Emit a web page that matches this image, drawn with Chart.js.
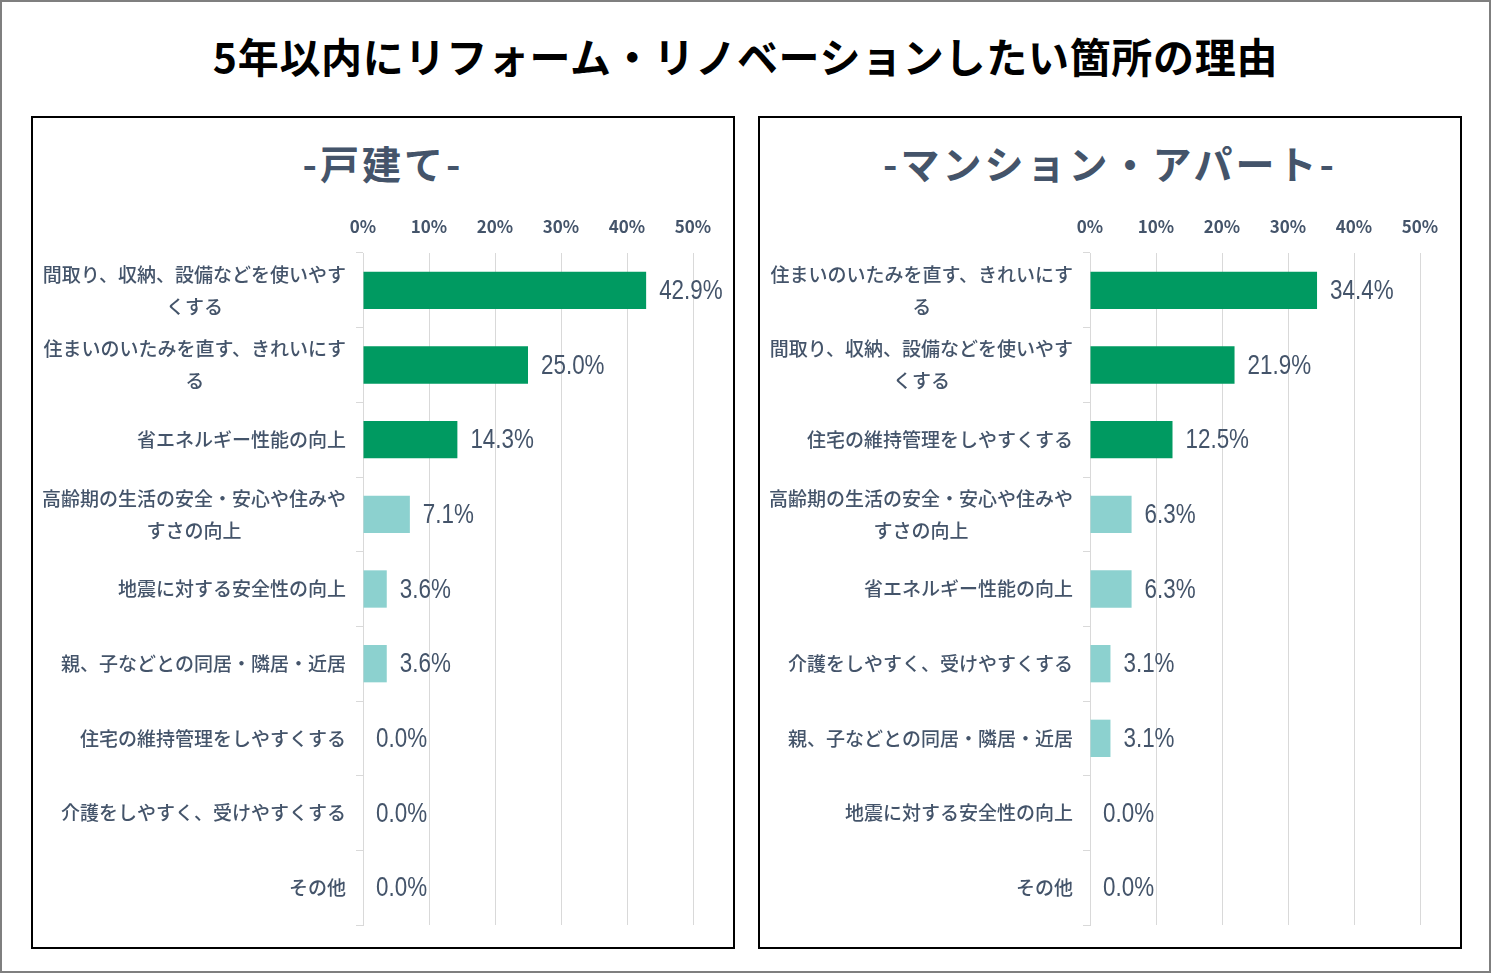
<!DOCTYPE html>
<html lang="ja">
<head>
<meta charset="utf-8">
<title>5年以内にリフォーム・リノベーションしたい箇所の理由</title>
<script src="https://cdn.jsdelivr.net/npm/chart.js@4.4.1/dist/chart.umd.min.js"></script>
<style>
  html, body { margin: 0; padding: 0; background: #fff; }
  body { width: 1491px; height: 973px; position: relative; overflow: hidden;
         font-family: "Noto Sans CJK JP", "Noto Sans", sans-serif; }
  .frame { position: absolute; left: 0; top: 0; width: 1491px; height: 973px;
           box-sizing: border-box; border: 2px solid #7f7f7f; }
  h1 { position: absolute; left: 0; width: 1491px; top: 55px; margin: 0;
       transform: translateY(-50%); text-align: center; line-height: 1;
       font-size: 41px; font-weight: 700; letter-spacing: 0.7px; color: #000; }
  .panel { position: absolute; top: 116px; width: 704px; height: 833px;
           box-sizing: border-box; border: 2px solid #000; }
  .panel h2 { position: absolute; left: 0; width: 100%; top: 44px; margin: 0;
              transform: translateY(-50%); text-align: center; line-height: 1;
              font-size: 39px; font-weight: 700; letter-spacing: 3px; color: #44546A; }
  .panel canvas { position: absolute; left: 0; top: 0; }
</style>
</head>
<body>
<div class="frame"></div>
<h1>5年以内にリフォーム・リノベーションしたい箇所の理由</h1>

<div class="panel" style="left:31px">
  <h2>-戸建て-</h2>
  <canvas id="house" width="700" height="829"></canvas>
</div>
<div class="panel" style="left:758px">
  <h2>-マンション・アパート-</h2>
  <canvas id="condo" width="700" height="829"></canvas>
</div>

<script>
// 戸建て
const houseLabels = [
  ["間取り、収納、設備などを使いやす", "くする"],
  ["住まいのいたみを直す、きれいにす", "る"],
  "省エネルギー性能の向上",
  ["高齢期の生活の安全・安心や住みや", "すさの向上"],
  "地震に対する安全性の向上",
  "親、子などとの同居・隣居・近居",
  "住宅の維持管理をしやすくする",
  "介護をしやすく、受けやすくする",
  "その他"
];
const houseValues = [42.9, 25.0, 14.3, 7.1, 3.6, 3.6, 0.0, 0.0, 0.0];

// マンション・アパート
const condoLabels = [
  ["住まいのいたみを直す、きれいにす", "る"],
  ["間取り、収納、設備などを使いやす", "くする"],
  "住宅の維持管理をしやすくする",
  ["高齢期の生活の安全・安心や住みや", "すさの向上"],
  "省エネルギー性能の向上",
  "介護をしやすく、受けやすくする",
  "親、子などとの同居・隣居・近居",
  "地震に対する安全性の向上",
  "その他"
];
const condoValues = [34.4, 21.9, 12.5, 6.3, 6.3, 3.1, 3.1, 0.0, 0.0];

const xTicks = [0, 10, 20, 30, 40, 50];

const TEXT = "#44546A";
const GREEN = "#009A61";
const TEAL = "#8CD1CF";
const GRID = "#D9D9D9";

// category labels: right aligned block, wrapped lines centered on each other
const catLabels = {
  id: "catLabels",
  afterDraw(chart) {
    const ctx = chart.ctx;
    const yScale = chart.scales.y;
    const right = chart.chartArea.left - 17;
    ctx.save();
    ctx.font = "500 19px 'Noto Sans CJK JP'";
    ctx.fillStyle = TEXT;
    ctx.textAlign = "center";
    ctx.textBaseline = "middle";
    chart.data.labels.forEach((lab, i) => {
      const lines = Array.isArray(lab) ? lab : [lab];
      const w = Math.max(...lines.map(l => ctx.measureText(l).width));
      const cx = right - w / 2;
      const cy = yScale.getPixelForValue(i);
      lines.forEach((l, j) => {
        ctx.fillText(l, cx, cy + (j - (lines.length - 1) / 2) * 32);
      });
    });
    ctx.restore();
  }
};

// value labels at the end of each bar (horizontally condensed, like a narrow face)
const valueLabels = {
  id: "valueLabels",
  afterDatasetsDraw(chart) {
    const ctx = chart.ctx;
    const meta = chart.getDatasetMeta(0);
    const squeeze = 0.8;
    ctx.save();
    ctx.font = "28px 'Liberation Sans', sans-serif";
    ctx.fillStyle = TEXT;
    ctx.textAlign = "left";
    ctx.textBaseline = "middle";
    meta.data.forEach((bar, i) => {
      const v = chart.data.datasets[0].data[i];
      ctx.save();
      ctx.translate(bar.x + 13, bar.y + 1);
      ctx.scale(squeeze, 1);
      ctx.fillText(v.toFixed(1) + "%", 0, 0);
      ctx.restore();
    });
    ctx.restore();
  }
};

function makeChart(id, labels, values) {
  return new Chart(document.getElementById(id), {
    type: "bar",
    data: {
      labels: labels,
      datasets: [{
        data: values,
        backgroundColor: values.map((v, i) => i < 3 ? GREEN : TEAL),
        barPercentage: 0.5,
        categoryPercentage: 1.0
      }]
    },
    options: {
      indexAxis: "y",
      responsive: false,
      animation: false,
      devicePixelRatio: 1,
      layout: { padding: { left: 0, top: 0, right: 40, bottom: 22 } },
      plugins: { legend: { display: false }, tooltip: { enabled: false } },
      scales: {
        x: {
          position: "top",
          min: xTicks[0],
          max: xTicks[xTicks.length - 1],
          afterBuildTicks: s => { s.ticks = xTicks.map(v => ({ value: v })); },
          afterFit: s => { s.height = 135; },
          ticks: {
            padding: 16,
            color: TEXT,
            font: { family: "'Noto Sans CJK JP'", size: 17, weight: "bold" },
            callback: v => v + "%"
          },
          grid: { color: GRID, drawTicks: false },
          border: { display: false }
        },
        y: {
          afterFit: s => { s.width = 330; },
          ticks: { display: false },
          grid: { color: GRID, drawOnChartArea: false, drawTicks: true, tickLength: 7, offset: true },
          border: { color: GRID }
        }
      }
    },
    plugins: [catLabels, valueLabels]
  });
}

makeChart("house", houseLabels, houseValues);
makeChart("condo", condoLabels, condoValues);
</script>
</body>
</html>
